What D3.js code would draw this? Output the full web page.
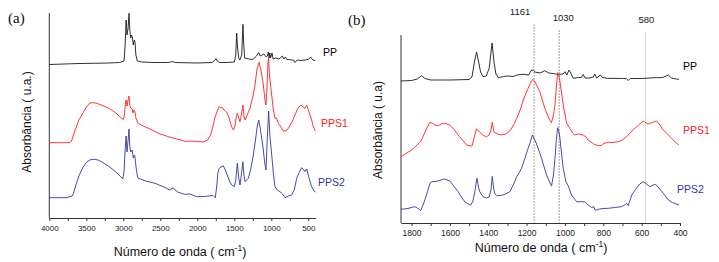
<!DOCTYPE html>
<html><head><meta charset="utf-8">
<script src="https://cdn.jsdelivr.net/npm/d3@7"></script>
<style>
html,body{margin:0;padding:0;background:#fff;}
svg{display:block;font-family:Arial,"Liberation Sans",sans-serif;}
</style></head>
<body><svg id="c" width="719" height="262"></svg>
<script>
// ---------- DATA: panel (a), wavenumber (cm-1) and absorbance (a.u.) ----------
const a_PP = [[4000,153.5],[3800,154],[3600,154.5],[3400,154.7],[3200,155],[3050,155.5],[2990,157],[2975,173],[2962,198],[2950,183],[2935,190],[2923,204.7],[2912,188],[2900,180],[2890,183],[2878,181.3],[2865,173],[2850,178],[2842,176],[2830,163],[2810,157],[2750,156],[2600,155.5],[2400,155.5],[2330,156.5],[2300,155.5],[2000,155],[1800,155.5],[1760,158],[1747,159.5],[1730,157],[1700,155.5],[1600,155.5],[1500,156],[1480,163],[1468,185],[1455,170],[1440,160],[1425,158],[1400,163],[1383,193.7],[1372,173],[1360,160],[1300,159],[1250,158.5],[1200,162],[1170,165.5],[1150,162],[1100,164],[1070,161],[1054,162],[1040,166],[1030,160],[1020,165],[1010,160],[990,165],[975,159],[940,160],[900,159],[880,160],[850,162],[830,159],[810,161],[790,158.5],[700,158],[680,155.5],[650,158],[600,157.5],[500,158.5],[467,161],[440,158],[405,157.5]];
const a_PPS1 = [[4000,75.3],[3720,75.3],[3700,77],[3650,88],[3600,98],[3500,111],[3450,115],[3400,115.3],[3350,114.5],[3300,113],[3200,110],[3100,105],[3030,100],[3000,98.5],[2985,103],[2970,116],[2960,118],[2950,112],[2935,118],[2923,122],[2912,113],[2900,110],[2880,109],[2870,105],[2855,108],[2842,106],[2830,100],[2800,94.5],[2700,91],[2600,87.5],[2500,84],[2400,81.5],[2300,79.5],[2200,77.5],[2160,76.5],[2100,77],[2000,76.5],[1920,76],[1860,78],[1820,83],[1790,91],[1760,101],[1720,109],[1703,111.3],[1680,110],[1660,110.5],[1640,108],[1603,105.7],[1570,100],[1540,92],[1514,88],[1495,90],[1475,100],[1459,104.7],[1440,100],[1423,96.3],[1405,103],[1383,113],[1370,102],[1355,98],[1320,104],[1288,109.7],[1250,121],[1220,133],[1195,148],[1166,155.7],[1140,148],[1108,133],[1085,118],[1072,113],[1060,128],[1045,156],[1036,159.7],[1025,143],[1000,126.3],[975,110],[950,99.7],[930,100],[905,94.7],[870,91],[838,87],[800,87],[770,89.7],[720,96],[680,103],[640,110],[600,113],[570,111],[545,109.7],[522,113],[490,106],[455,98],[430,91],[405,87]];
const a_PPS2 = [[4000,20.3],[3760,20.3],[3720,21.5],[3690,22],[3676,24],[3640,33],[3600,42],[3550,50],[3500,55.5],[3450,58.2],[3392,58.7],[3340,58],[3300,56.5],[3200,52],[3100,46],[3030,41],[3008,39],[2990,46],[2975,68],[2962,82],[2950,66],[2935,78],[2923,89],[2912,72],[2900,66],[2880,68],[2865,60],[2850,63],[2842,61],[2830,52],[2810,42],[2797,39.7],[2700,37],[2572,34.7],[2450,31],[2369,28],[2324,30.3],[2300,28],[2257,25.7],[2166,23.7],[2100,24],[2008,21.3],[1900,21.5],[1800,22.5],[1784,22.3],[1757,20.3],[1740,30],[1720,46],[1703,49.7],[1680,51],[1649,52.3],[1620,48],[1590,42],[1560,36],[1535,33],[1500,31.3],[1480,38],[1459,54.7],[1440,40],[1423,33],[1405,43],[1383,56.3],[1370,43],[1355,36.3],[1311,39.7],[1280,48],[1243,63],[1210,80],[1190,92],[1170,98],[1150,90],[1116,73],[1090,56],[1072,48],[1055,78],[1036,107],[1020,83],[990,59.7],[970,43],[950,31.3],[920,28],[882,26.3],[850,24],[814,20.3],[770,22],[725,23],[690,28],[657,39.7],[620,46],[590,50.3],[560,48],[545,46.3],[522,49],[490,40],[455,31.3],[430,28],[405,25.7]];

// ---------- DATA: panel (b) ----------
const b_PP = [[1855,142],[1800,142.5],[1770,144],[1748,147.3],[1730,144.5],[1700,143],[1600,143],[1500,143.5],[1485,146],[1472,161],[1461,171],[1450,161],[1440,151],[1427,146.3],[1410,147],[1395,155],[1380,180],[1370,161],[1360,149],[1348,145.3],[1320,146.5],[1300,147],[1270,146.5],[1250,148],[1218,148.7],[1190,148],[1174,153],[1165,152.5],[1157,151],[1130,150],[1105,152.3],[1085,150],[1070,149.7],[1050,149],[1035,148.7],[1010,149],[1000,151.3],[990,148],[979,153],[970,150],[957,144.7],[930,145.5],[915,145.5],[905,148.5],[895,145],[870,145],[852,146],[844,149],[835,145],[815,148],[805,145.5],[780,144.7],[700,144.5],[680,144.5],[670,142.5],[660,144.5],[600,144.5],[531,145.3],[490,145.5],[461,148],[445,145],[420,144],[405,143.7]];
const b_PPS1 = [[1855,66.3],[1800,73],[1760,80],[1748,83],[1725,93],[1705,100.7],[1690,99.5],[1678,98],[1661,97.3],[1640,99.5],[1626,99.7],[1600,98],[1580,94],[1557,88],[1530,82],[1513,78],[1490,77],[1484,77.3],[1470,88],[1461,94],[1450,92],[1444,90.7],[1425,87.5],[1409,86.3],[1395,88],[1386,93],[1379,100.7],[1372,93],[1369,90.7],[1350,89],[1331,88],[1310,89],[1287,92],[1265,99],[1244,108],[1230,115],[1218,123],[1192,134.7],[1175,142],[1166,143.5],[1157,141.3],[1131,131.3],[1105,114.7],[1085,105],[1070,100.3],[1060,108],[1052,118],[1044,138],[1038,150.3],[1030,146],[1026,141.3],[1009,118],[991,99.7],[974,94.7],[960,90],[948,88],[930,89],[905,88],[890,86],[879,83],[850,79],[827,77.3],[810,77.5],[800,79.5],[774,80.7],[750,80.5],[722,81.3],[700,83],[678,86.3],[650,92],[635,94.7],[610,99],[592,102],[580,100.5],[566,99],[545,100.5],[522,102],[505,98],[487,93],[465,89],[444,84.7],[425,81],[406,78]];
const b_PPS2 = [[1855,13.7],[1820,14.5],[1783,16.3],[1765,14.5],[1752,12.5],[1740,18],[1722,28],[1705,39],[1696,41.3],[1680,41.5],[1661,42],[1640,43.5],[1626,44],[1600,42],[1580,37],[1557,31.3],[1540,26],[1522,21.3],[1500,18.5],[1491,18],[1480,22],[1470,31.3],[1459,44.7],[1450,35],[1444,31.3],[1427,26.3],[1410,25],[1395,26],[1386,33],[1379,46.5],[1372,35],[1365,29],[1356,27.3],[1335,27.5],[1313,28.7],[1287,31.3],[1265,40],[1252,46.3],[1235,51.3],[1222,57],[1209,64.7],[1195,73],[1183,79.7],[1169,88],[1150,80],[1131,69.7],[1122,64.7],[1096,48],[1080,41],[1070,37],[1060,48],[1052,64.7],[1045,83],[1038,95.3],[1030,90],[1026,84.7],[1017,68],[1009,54.7],[995,41.3],[985,38],[975,33],[966,28],[939,21.3],[910,21.3],[895,21],[879,18],[860,15.3],[850,16.5],[843,13],[835,13],[820,14],[800,14.5],[774,14.7],[740,15.5],[705,16.3],[690,18],[678,19.7],[670,17.5],[660,23],[652,28],[630,34],[610,39],[592,41.3],[575,39],[557,36.3],[540,38],[527,38.7],[510,35],[487,29.7],[461,23],[440,20.5],[420,19],[405,18]];

const ticksA = [4000,3750,3500,3250,3000,2750,2500,2250,2000,1750,1500,1250,1000,750,500];
const labelsA = [4000,3500,3000,2500,2000,1500,1000,500];
const ticksB = [1800,1700,1600,1500,1400,1300,1200,1100,1000,900,800,700,600,500,400];
const labelsB = [1800,1600,1400,1200,1000,800,600,400];
const markLines = [1161,1030,580];
const seriesNames = ["PP","PPS1","PPS2"];
const colors = {PP:"#1a1a1a", PPS1:"#ff2020", PPS2:"#35359e"};

const svg = d3.select("#c");

function panel(cfg){
  const x = d3.scaleLinear().domain(cfg.xDomain).range(cfg.xRange);
  const y = d3.scaleLinear().domain(cfg.yDomain).range(cfg.yRange);
  const g = svg.append("g");
  g.append("line").attr("x1",cfg.xRange[0]).attr("x2",cfg.xRange[0])
    .attr("y1",cfg.yRange[1]).attr("y2",cfg.yRange[0])
    .attr("stroke","#333").attr("stroke-width",1);
  const ax = d3.axisBottom(x).tickValues(cfg.ticks).tickSize(3).tickSizeOuter(0)
    .tickFormat(d => cfg.labels.includes(d) ? d : "");
  const axg = g.append("g").attr("transform",`translate(0,${cfg.yRange[0]})`).call(ax);
  axg.select(".domain").attr("stroke","#333");
  axg.selectAll(".tick line").attr("stroke","#333");
  axg.selectAll(".tick text").attr("font-size",cfg.tickFont).attr("fill","#222")
    .attr("dy","0.71em").attr("y",cfg.tickPad).style("font-family","Arial,'Liberation Sans',sans-serif");
  if (cfg.marks){
    cfg.marks.forEach((m,i)=>{
      g.append("line").attr("x1",x(m)).attr("x2",x(m))
        .attr("y1",cfg.markTop[i]).attr("y2",cfg.yRange[0])
        .attr("stroke", i<2 ? "#8a8a8a" : "#cfcfcf").attr("stroke-width",0.8)
        .attr("stroke-dasharray", i<2 ? "2,1" : null);
      g.append("text").attr("x",x(m)+cfg.markDx[i]).attr("y",cfg.markLabY[i])
        .attr("text-anchor","middle").attr("font-size",9.5).attr("fill","#222").text(m);
    });
  }
  const line = d3.line().x(d=>x(d[0])).y(d=>y(d[1]));
  cfg.series.forEach((s,i)=>{
    g.append("path").datum(s).attr("d",line).attr("fill","none")
      .attr("stroke",colors[seriesNames[i]]).attr("stroke-width",0.9).attr("stroke-linejoin","round");
    g.append("text").attr("x",cfg.labX[i]).attr("y",cfg.labY[i]).attr("font-size",10.5)
      .attr("fill",colors[seriesNames[i]] === "#1a1a1a" ? "#000" : colors[seriesNames[i]]).text(seriesNames[i]);
  });
  const xt = g.append("text").attr("x",cfg.xTitleX).attr("y",cfg.xTitleY).attr("text-anchor","middle")
    .attr("font-size",12.5).attr("fill","#111");
  xt.append("tspan").text("Número de onda  ( cm");
  xt.append("tspan").attr("dy",-5).attr("font-size",8.5).text("-1");
  xt.append("tspan").attr("dy",5).text(")");
  g.append("text").attr("transform",`translate(${cfg.yTitleX},${cfg.yTitleY}) rotate(-90)`)
    .attr("text-anchor","middle").attr("font-size",12).attr("fill","#111").text(cfg.yTitle);
  g.append("text").attr("x",cfg.letterX).attr("y",cfg.letterY).attr("font-size",15)
    .style("font-family","'Liberation Serif','Times New Roman',serif").attr("fill","#111").text(cfg.letter);
}

panel({
  xDomain:[4000,400], xRange:[49.3,315.7], yDomain:[0,205], yRange:[218,13],
  ticks:ticksA, labels:labelsA, tickFont:8, tickPad:7,
  series:[a_PP,a_PPS1,a_PPS2],
  labX:[323,321,318], labY:[56,127,186],
  xTitleX:180, xTitleY:256, yTitleX:31, yTitleY:122, yTitle:"Absorbância  ( u.a.)",
  letter:"(a)", letterX:8, letterY:23
});
panel({
  xDomain:[1855,400], xRange:[401,680], yDomain:[0,188], yRange:[223,35],
  ticks:ticksB, labels:labelsB, tickFont:8.5, tickPad:7,
  series:[b_PP,b_PPS1,b_PPS2],
  labX:[683,683,677], labY:[70,134,193],
  marks:markLines, markTop:[24,30,32], markDx:[-14,4,1], markLabY:[15,21,23],
  xTitleX:541, xTitleY:252, yTitleX:382, yTitleY:130, yTitle:"Absorbância  ( u.a)",
  letter:"(b)", letterX:348, letterY:25
});
</script></body></html>
